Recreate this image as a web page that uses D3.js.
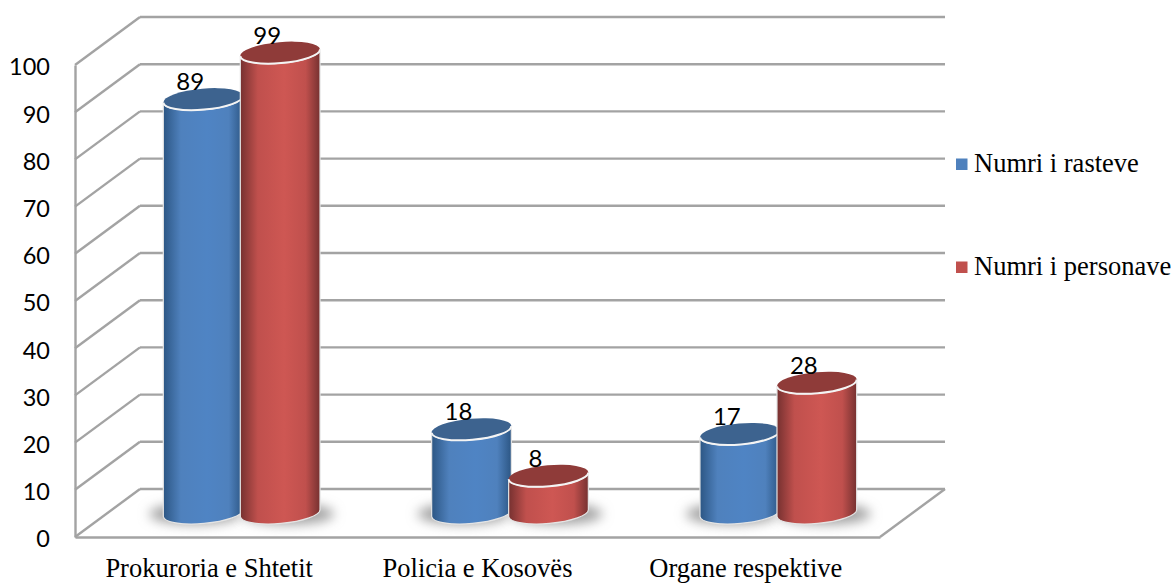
<!DOCTYPE html>
<html>
<head>
<meta charset="utf-8">
<script src="https://cdn.jsdelivr.net/npm/d3@7"></script>
<style>
    html, body { margin: 0; padding: 0; background: #fff; }
    svg { display: block; }
    .tick-label { font-family: Lato, "Open Sans", sans-serif; font-size: 23.5px; fill: #000; }
    .value-label { font-family: Lato, "Open Sans", sans-serif; font-size: 24px; fill: #000; text-anchor: middle; }
    .cat-label, .legend-label { font-family: "Liberation Serif", serif; font-size: 26.5px; fill: #000; }
</style>
</head>
<body>
<div id="chart"></div>
<script>
// Data
const categories = ['Prokuroria e Shtetit', 'Policia e Kosovës', 'Organe respektive'];
const seriesNames = ['Numri i rasteve', 'Numri i personave'];
const rasteve = [89, 18, 17];
const personave = [99, 8, 28];
const yTicks = [0, 10, 20, 30, 40, 50, 60, 70, 80, 90, 100];

const seriesValues = [rasteve, personave];
const palettes = [
    { main: '#4f81bd', edge: '#2c5684', mid: '#4f84c4', top: '#3d638f' },
    { main: '#c0504d', edge: '#763130', mid: '#ce5753', top: '#8f3b39' }
];

const width = 1173, height = 583;
const depthX = 65, depthY = 48;
const grey = '#a3a3a3';

const svg = d3.select('#chart').append('svg')
    .attr('width', width)
    .attr('height', height);

const defs = svg.append('defs');

// Front edge scales
const xFront = d3.scaleBand().domain(categories).range([75, 880]);
const yFront = d3.scaleLinear().domain([0, 100]).range([537, 65]);

// Bars stand in the middle of the floor, so they get their own vertical scale
const yBar = d3.scaleLinear().domain([0, 100]).range([513, 48]);
const barWidth = 80;
const barStep = 77; // the red cylinder overlaps the blue one a little
const rx = barWidth / 2, ry = 10.5, tilt = -5;
const tiltRad = tilt * Math.PI / 180;
const dxEnd = rx * Math.cos(tiltRad), dyEnd = rx * Math.sin(tiltRad);
const x1 = d3.scaleBand().domain([0, 1]).range([-barStep, barStep]);

// Gradients
palettes.forEach((p, i) => {
    const body = defs.append('linearGradient').attr('id', `body${i}`);
    body.append('stop').attr('offset', '0%').attr('stop-color', p.edge);
    body.append('stop').attr('offset', '22%').attr('stop-color', p.main);
    body.append('stop').attr('offset', '55%').attr('stop-color', p.mid);
    body.append('stop').attr('offset', '82%').attr('stop-color', p.main);
    body.append('stop').attr('offset', '100%').attr('stop-color', p.edge);
});
defs.append('filter').attr('id', 'soft')
    .attr('x', '-30%').attr('y', '-100%').attr('width', '160%').attr('height', '300%')
    .append('feGaussianBlur').attr('stdDeviation', 6);

// Back wall, left wall and floor
const grid = svg.append('g').attr('fill', 'none').attr('stroke', grey).attr('stroke-width', 2.4);
grid.selectAll('.back').data(yTicks).join('line')
    .attr('class', 'back')
    .attr('x1', xFront.range()[0] + depthX).attr('x2', xFront.range()[1] + depthX)
    .attr('y1', d => yFront(d) - depthY).attr('y2', d => yFront(d) - depthY);
grid.selectAll('.side').data(yTicks).join('line')
    .attr('class', 'side')
    .attr('x1', xFront.range()[0]).attr('x2', xFront.range()[0] + depthX)
    .attr('y1', d => yFront(d)).attr('y2', d => yFront(d) - depthY);
grid.append('line')
    .attr('x1', xFront.range()[1]).attr('x2', xFront.range()[1] + depthX)
    .attr('y1', yFront(0)).attr('y2', yFront(0) - depthY);

// Axes
const yAxis = d3.axisLeft(yFront).tickValues(yTicks).tickSize(0).tickPadding(25);
const yG = svg.append('g').attr('transform', `translate(${xFront.range()[0]},0)`).call(yAxis);
yG.select('.domain').attr('stroke', grey).attr('stroke-width', 2.4);
yG.selectAll('text').attr('class', 'tick-label').attr('dy', '0.42em');

const xAxis = d3.axisBottom(xFront).tickSize(0).tickPadding(21);
const xG = svg.append('g').attr('transform', `translate(0,${yFront(0)})`).call(xAxis);
xG.select('.domain').attr('stroke', grey).attr('stroke-width', 2.4);
xG.selectAll('text').attr('class', 'cat-label').attr('dy', '0.71em');

// Cylinders
const groups = svg.selectAll('.cluster').data(categories).join('g')
    .attr('class', 'cluster')
    .attr('transform', d => `translate(${xFront(d) + xFront.bandwidth() / 2 + depthX / 2},0)`);

const barX = k => x1(k) + barStep / 2;

// Floor shadows go first, under all the bars
groups.selectAll('.shadow').data(seriesValues.map((s, k) => k)).join('ellipse')
    .attr('class', 'shadow')
    .attr('cx', k => barX(k) + (k === 0 ? -8 : 8))
    .attr('cy', yBar(0) + 1)
    .attr('rx', rx + 6)
    .attr('ry', ry)
    .attr('fill', '#a0a0a0')
    .attr('filter', 'url(#soft)');

groups.each(function(cat, c) {
    const g = d3.select(this);
    seriesValues.forEach((values, k) => {
        const cx = barX(k);
        const yTop = yBar(values[c]);
        const yBase = yBar(0);
        const bar = g.append('g');
        bar.append('path')
            .attr('d', `M${cx - dxEnd},${yTop - dyEnd}`
                + `L${cx - dxEnd},${yBase - dyEnd}`
                + `A${rx},${ry} ${tilt} 0 0 ${cx + dxEnd},${yBase + dyEnd}`
                + `L${cx + dxEnd},${yTop + dyEnd}`
                + `A${rx},${ry} ${tilt} 0 1 ${cx - dxEnd},${yTop - dyEnd}Z`)
            .attr('fill', `url(#body${k})`)
            .attr('stroke', '#e4e4e4')
            .attr('stroke-width', 1.2);
        bar.append('ellipse')
            .attr('transform', `translate(${cx},${yTop}) rotate(${tilt})`)
            .attr('rx', rx)
            .attr('ry', ry)
            .attr('fill', palettes[k].top);
        bar.append('path')
            .attr('d', `M${cx - dxEnd},${yTop - dyEnd}A${rx},${ry} ${tilt} 0 0 ${cx + dxEnd},${yTop + dyEnd}`)
            .attr('fill', 'none')
            .attr('stroke', '#f4f4f4')
            .attr('stroke-width', 2);
    });
    // Labels on top of both bars
    seriesValues.forEach((values, k) => {
        g.append('text')
            .attr('class', 'value-label')
            .attr('x', barX(k) - 13)
            .attr('y', yBar(values[c]) - 9)
            .text(values[c]);
    });
});

// Legend
const legendY = d3.scalePoint().domain(seriesNames).range([164, 267]);
const legend = svg.selectAll('.legend').data(seriesNames).join('g')
    .attr('class', 'legend')
    .attr('transform', d => `translate(956,${legendY(d)})`);
legend.append('rect')
    .attr('y', -5.5).attr('width', 11.5).attr('height', 11.5)
    .attr('fill', (d, i) => palettes[i].main);
legend.append('text')
    .attr('class', 'legend-label')
    .attr('x', 18)
    .attr('y', 8)
    .text(d => d);
</script>
</body>
</html>
